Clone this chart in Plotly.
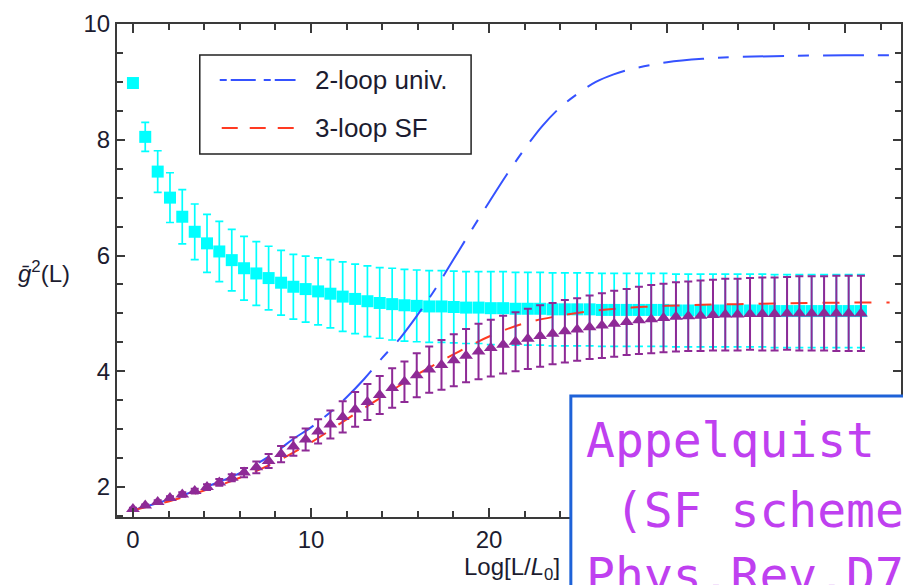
import plotly.graph_objects as go

# ---------------- data ----------------
x_vals = [0.00, 0.69, 1.39, 2.08, 2.77, 3.47, 4.16, 4.85, 5.55, 6.24,
          6.93, 7.62, 8.32, 9.01, 9.70, 10.40, 11.09, 11.78, 12.48, 13.17,
          13.86, 14.56, 15.25, 15.94, 16.64, 17.33, 18.02, 18.71, 19.41, 20.10,
          20.79, 21.49, 22.18, 22.87, 23.57, 24.26, 24.95, 25.65, 26.34, 27.03,
          27.73, 28.42, 29.11, 29.80, 30.50, 31.19, 31.88, 32.58, 33.27, 33.96,
          34.66, 35.35, 36.04, 36.74, 37.43, 38.12, 38.82, 39.51, 40.20, 40.89]

cyan_y = [8.98, 8.05, 7.45, 7.00, 6.67, 6.41, 6.21, 6.07, 5.92, 5.78,
          5.69, 5.61, 5.53, 5.46, 5.42, 5.38, 5.34, 5.29, 5.25, 5.21,
          5.18, 5.16, 5.14, 5.13, 5.12, 5.12, 5.11, 5.10, 5.10, 5.09,
          5.09, 5.08, 5.08, 5.08, 5.07, 5.07, 5.07, 5.07, 5.06, 5.06,
          5.06, 5.06, 5.06, 5.06, 5.05, 5.05, 5.05, 5.05, 5.05, 5.05,
          5.05, 5.05, 5.04, 5.04, 5.04, 5.04, 5.04, 5.04, 5.04, 5.04]
cyan_err = [0.00, 0.25, 0.36, 0.43, 0.47, 0.48, 0.50, 0.52, 0.53, 0.55,
            0.55, 0.55, 0.56, 0.56, 0.57, 0.58, 0.59, 0.60, 0.60, 0.61,
            0.61, 0.62, 0.62, 0.62, 0.62, 0.62, 0.62, 0.62, 0.62, 0.63,
            0.63, 0.63, 0.63, 0.63, 0.63, 0.63, 0.63, 0.63, 0.63, 0.63,
            0.63, 0.63, 0.63, 0.63, 0.63, 0.63, 0.63, 0.63, 0.63, 0.63,
            0.63, 0.63, 0.63, 0.63, 0.63, 0.63, 0.63, 0.63, 0.63, 0.63]

purple_y = [1.62, 1.68, 1.74, 1.81, 1.87, 1.93, 2.00, 2.08, 2.16, 2.25,
            2.34, 2.45, 2.57, 2.70, 2.82, 2.96, 3.08, 3.21, 3.34, 3.47,
            3.59, 3.71, 3.82, 3.93, 4.03, 4.11, 4.19, 4.27, 4.34, 4.40,
            4.46, 4.51, 4.56, 4.61, 4.65, 4.69, 4.72, 4.76, 4.79, 4.82,
            4.85, 4.88, 4.90, 4.92, 4.94, 4.95, 4.96, 4.97, 4.98, 4.98,
            4.99, 4.99, 4.99, 5.00, 5.00, 5.00, 5.00, 5.00, 5.00, 5.00]
purple_err = [0.02, 0.02, 0.03, 0.03, 0.04, 0.04, 0.05, 0.06, 0.06, 0.08,
              0.10, 0.12, 0.14, 0.16, 0.19, 0.21, 0.24, 0.27, 0.30, 0.31,
              0.33, 0.34, 0.35, 0.38, 0.40, 0.43, 0.45, 0.46, 0.48, 0.49,
              0.50, 0.51, 0.52, 0.53, 0.53, 0.54, 0.54, 0.55, 0.56, 0.57,
              0.57, 0.58, 0.59, 0.59, 0.60, 0.60, 0.61, 0.61, 0.62, 0.62,
              0.62, 0.63, 0.63, 0.63, 0.64, 0.64, 0.64, 0.65, 0.65, 0.65]

univ2_x = [0, 2, 4, 6, 8, 9, 10, 11, 12, 13, 14, 15, 16, 17, 18, 19, 20,
           21, 22, 23, 24, 25, 26, 27, 28, 30, 32, 34, 37, 40, 42.5]
univ2_y = [1.60, 1.78, 1.99, 2.24, 2.60, 2.83, 3.03, 3.27, 3.55, 3.87, 4.23,
           4.57, 4.98, 5.43, 5.93, 6.43, 6.92, 7.40, 7.84, 8.24, 8.56, 8.80,
           9.00, 9.13, 9.22, 9.34, 9.40, 9.43, 9.45, 9.46, 9.46]

sf3_x = [0, 2, 4, 6, 8, 10, 12, 14, 16, 18, 20, 22, 24, 26, 28, 30, 32,
         34, 36, 38, 42.5]
sf3_y = [1.60, 1.75, 1.94, 2.16, 2.43, 2.77, 3.17, 3.56, 3.95, 4.29, 4.60,
         4.83, 4.96, 5.05, 5.10, 5.13, 5.15, 5.16, 5.17, 5.18, 5.19]

x_tickvals = [0, 10, 20, 30, 40]
x_ticktext = ["0", "10", "20", "", ""]   # 30 and 40 are hidden by the box
y_tickvals = [2, 4, 6, 8, 10]
legend_labels = ["2-loop univ.", "3-loop SF"]
overlay_lines = ["Appelquist", "\u00a0(SF scheme", "Phys.Rev.D7"]

# ---------------- geometry helpers (pixel -> paper) ----------------
W, H = 903, 585
L_M, T_M, B_M, R_M = 117, 24, 68, 0
PW, PH = W - L_M - R_M, H - T_M - B_M


def px(xp):
    return (xp - L_M) / PW


def py(yp):
    return (H - B_M - yp) / PH


FONT = "Liberation Sans, Arial, Helvetica, sans-serif"
AX_COL = "#3a3a3a"
TXT_COL = "#1c1c30"

fig = go.Figure()

fig.add_trace(go.Scatter(
    x=x_vals, y=cyan_y, mode="markers",
    marker=dict(symbol="square", size=12, color="#00FFFF"),
    error_y=dict(type="data", array=cyan_err, color="#00FFFF",
                 thickness=1.7, width=4),
    showlegend=False))

fig.add_trace(go.Scatter(
    x=univ2_x, y=univ2_y, mode="lines",
    line=dict(color="#3552FF", width=2, dash="41px,14px,11px,14px",
              shape="spline"),
    showlegend=False))

fig.add_trace(go.Scatter(
    x=sf3_x, y=sf3_y, mode="lines",
    line=dict(color="#FF3A22", width=2, dash="17px,15px", shape="spline"),
    showlegend=False))

fig.add_trace(go.Scatter(
    x=x_vals, y=purple_y, mode="markers",
    marker=dict(symbol="triangle-up", size=12, color="#8E2A96"),
    error_y=dict(type="data", array=purple_err, color="#8E2A96",
                 thickness=2, width=4),
    showlegend=False))

axis_common = dict(
    showline=True, linecolor=AX_COL, linewidth=2, mirror="ticks",
    ticks="inside", tickcolor=AX_COL, tickwidth=1.5,
    showgrid=False, zeroline=False,
    tickfont=dict(family=FONT, size=24, color=TXT_COL),
)

fig.update_layout(
    width=W, height=H,
    margin=dict(l=L_M, r=R_M, t=T_M, b=B_M),
    paper_bgcolor="white", plot_bgcolor="white",
    xaxis=dict(range=[-0.896, 43.14], tickvals=x_tickvals,
               ticktext=x_ticktext,
               ticklen=9, minor=dict(dtick=2, tick0=0, ticklen=6,
                                     tickcolor=AX_COL, tickwidth=1.5,
                                     ticks="inside"),
               **axis_common),
    yaxis=dict(range=[1.482, 10], tickvals=y_tickvals,
               ticklen=8, minor=dict(dtick=0.5, tick0=0, ticklen=6,
                                     tickcolor=AX_COL, tickwidth=1.5,
                                     ticks="inside"),
               **axis_common),
    showlegend=False,
)

shapes = []
# legend frame
shapes.append(dict(type="rect", xref="paper", yref="paper",
                   x0=px(200), x1=px(472), y0=py(154), y1=py(55),
                   line=dict(color="#222222", width=1.5),
                   fillcolor="white", layer="above"))
shapes.append(dict(type="line", xref="paper", yref="paper",
                   x0=px(220), x1=px(296), y0=py(80), y1=py(80),
                   line=dict(color="#3552FF", width=2,
                             dash="7px,4px,25px,8px"), layer="above"))
shapes.append(dict(type="line", xref="paper", yref="paper",
                   x0=px(222), x1=px(296), y0=py(128), y1=py(128),
                   line=dict(color="#FF3A22", width=2, dash="16px,12px"),
                   layer="above"))
# overlay box
shapes.append(dict(type="rect", xref="paper", yref="paper",
                   x0=px(572), x1=px(960), y0=py(640), y1=py(396),
                   line=dict(color="#1E62D8", width=3),
                   fillcolor="white", layer="above"))

annotations = []
for lbl, yc in zip(legend_labels, [80, 128]):
    annotations.append(dict(xref="paper", yref="paper", x=px(314), y=py(yc),
                            xanchor="left", yanchor="middle", showarrow=False,
                            text=lbl,
                            font=dict(family=FONT, size=26, color=TXT_COL)))
# axis titles
annotations.append(dict(xref="paper", yref="paper", x=px(16), y=py(272),
                        xanchor="left", yanchor="middle", showarrow=False,
                        text="<i>\u1e21</i><sup>2</sup>(L)",
                        font=dict(family=FONT, size=24, color=TXT_COL)))
annotations.append(dict(xref="paper", yref="paper", x=px(513), y=py(568),
                        xanchor="center", yanchor="middle", showarrow=False,
                        text="Log[L/<i>L</i><sub>0</sub>]",
                        font=dict(family=FONT, size=24, color=TXT_COL)))
# overlay text
for line, yc in zip(overlay_lines, [440, 510, 575]):
    annotations.append(dict(xref="paper", yref="paper", x=px(585), y=py(yc),
                            xanchor="left", yanchor="middle", showarrow=False,
                            text=line,
                            font=dict(family="DejaVu Sans Mono, monospace",
                                      size=48, color="#BF40F0")))

fig.update_layout(shapes=shapes, annotations=annotations)

fig.write_html("out.html", config={"displayModeBar": False})
